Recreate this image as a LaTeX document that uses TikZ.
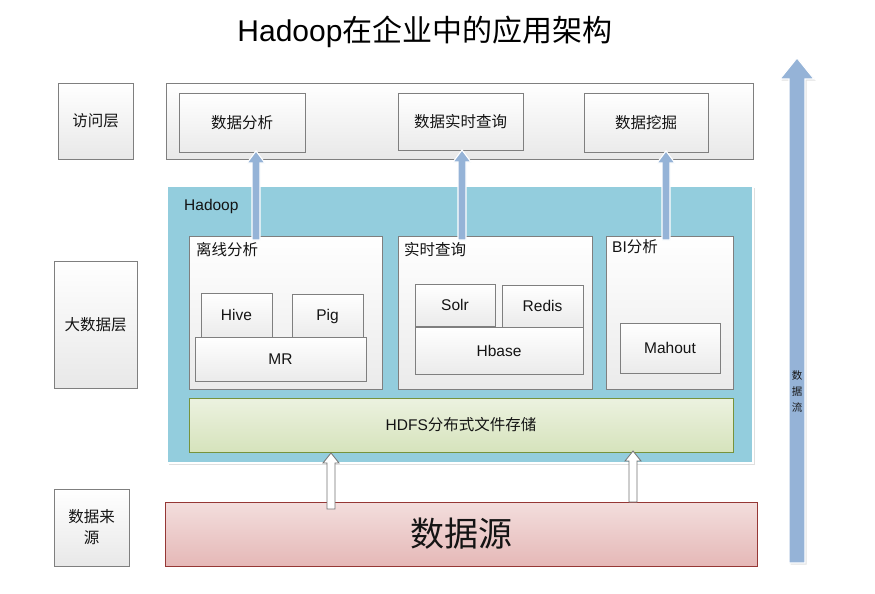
\documentclass[tikz,border=0pt]{standalone}
\usepackage{fontspec}
\setmainfont{Liberation Sans}
\newfontfamily\cjk{Noto Sans CJK SC}
\usetikzlibrary{shadows}
\definecolor{boxline}{RGB}{127,127,127}
\definecolor{hadoopfill}{RGB}{147,205,221}
\definecolor{hdfstop}{RGB}{236,242,224}
\definecolor{hdfsbot}{RGB}{214,227,188}
\definecolor{hdfsline}{RGB}{119,147,60}
\definecolor{srctop}{RGB}{243,222,221}
\definecolor{srcbot}{RGB}{229,184,183}
\definecolor{srcline}{RGB}{149,55,53}
\definecolor{flowblue}{RGB}{149,179,215}
\definecolor{txt}{RGB}{20,20,20}
\newcommand\zh[1]{{\cjk #1}}
\newcommand\blockup[7]{%
  \draw[#7] (#1-#4,#3) -- (#1-#4,#2+#6) -- (#1-#5,#2+#6) -- (#1,#2) -- (#1+#5,#2+#6) -- (#1+#4,#2+#6) -- (#1+#4,#3) -- cycle;}
\tikzset{
  lbl/.style={font=\fontsize{15.5}{18}\selectfont, text=txt},
  graybox/.style={draw=boxline, line width=0.8pt, top color=white, bottom color=black!9,
    drop shadow={shadow xshift=1.2pt, shadow yshift=-1.2pt, opacity=0.2},
    inner sep=0pt, lbl},
  innerbox/.style={draw=boxline, line width=0.8pt, top color=white, bottom color=black!8,
    inner sep=0pt, lbl},
  hadoopbox/.style={draw=white, line width=1.5pt, fill=hadoopfill,
    drop shadow={shadow xshift=1.5pt, shadow yshift=-1.5pt, opacity=0.25}, inner sep=0pt},
  hdfsbox/.style={draw=hdfsline, line width=0.8pt, top color=hdfstop, bottom color=hdfsbot, inner sep=0pt, lbl},
  srcbox/.style={draw=srcline, line width=0.8pt, top color=srctop, bottom color=srcbot, inner sep=0pt, text=txt},
  bluearrow/.style={fill=flowblue, draw=white, line width=1.1pt, line join=miter},
  whitearrow/.style={fill=white, draw=black!55, line width=0.8pt},
  corner/.style={anchor=west, inner sep=0pt, lbl},
}
\begin{document}
\begin{tikzpicture}[x=1pt, y=-1pt]
\useasboundingbox (0,0) rectangle (875,594);
% title
\node[font=\fontsize{30}{33}\selectfont, text=black] (title) at (425,32) {Hadoop\zh{在企业中的应用架构}};
% left labels
\node[graybox, minimum width=75pt, minimum height=76pt] (lab1) at (95.5,121) {\zh{访问层}};
\node[graybox, minimum width=83pt, minimum height=127pt] (lab2) at (95.5,324.5) {\zh{大数据层}};
\node[graybox, minimum width=75pt, minimum height=77pt, align=center] (lab3) at (91.5,527.5) {\zh{数据来}\\[3pt]\zh{源}};
% access layer
\node[graybox, minimum width=587pt, minimum height=76pt] (access) at (459.5,121) {};
\node[innerbox, minimum width=126pt, minimum height=59pt] (a1) at (242,122.5) {\zh{数据分析}};
\node[innerbox, minimum width=125pt, minimum height=57pt] (a2) at (460.5,121.5) {\zh{数据实时查询}};
\node[innerbox, minimum width=124pt, minimum height=59pt] (a3) at (646,122.5) {\zh{数据挖掘}};
% hadoop layer
\node[hadoopbox, minimum width=586pt, minimum height=277pt] (hadoop) at (460,324.5) {};
\node[corner] (hadooplbl) at (184,206) {Hadoop};
\node[innerbox, minimum width=193pt, minimum height=153pt] (off) at (285.5,312.5) {};
\node[corner] (offlbl) at (196,250) {\zh{离线分析}};
\node[innerbox, minimum width=71pt, minimum height=45pt] (hive) at (236.5,315.5) {\raisebox{2pt}{Hive}};
\node[innerbox, minimum width=71pt, minimum height=45pt] (pig) at (327.5,316.5) {Pig};
\node[innerbox, minimum width=171pt, minimum height=44pt] (mr) at (280.5,359) {MR};
\node[innerbox, minimum width=194pt, minimum height=153pt] (rt) at (495,312.5) {};
\node[corner] (rtlbl) at (404,250) {\zh{实时查询}};
\node[innerbox, minimum width=80pt, minimum height=42pt] (solr) at (455,305) {Solr};
\node[innerbox, minimum width=81pt, minimum height=42pt] (redis) at (542.5,306) {Redis};
\node[innerbox, minimum width=168pt, minimum height=47pt] (hbase) at (499,350.5) {Hbase};
\node[innerbox, minimum width=127pt, minimum height=153pt] (bi) at (669.5,312.5) {};
\node[corner] (bilbl) at (612,247) {BI\zh{分析}};
\node[innerbox, minimum width=100pt, minimum height=50pt] (mahout) at (670,348) {Mahout};
\node[hdfsbox, minimum width=544pt, minimum height=54pt] (hdfs) at (461,425) {HDFS\zh{分布式文件存储}};
% data source
\node[srcbox, minimum width=592pt, minimum height=64pt, font=\fontsize{34}{36}\selectfont] (src) at (461,534) {\zh{数据源}};
% blue arrows from hadoop components to access layer
\blockup{256}{151}{240}{4}{9}{12}{bluearrow}
\blockup{462}{150}{240}{4}{9}{12}{bluearrow}
\blockup{666}{151}{240}{4}{9}{12}{bluearrow}
% white arrows from data source to HDFS
\blockup{331}{453}{509}{4}{8}{10}{whitearrow}
\blockup{633}{451}{502}{4}{8}{10}{whitearrow}
% big data flow arrow
\begin{scope}[transparency group, opacity=0.12]
\blockup{798.5}{59.5}{564.5}{8}{17}{21}{fill=black, draw=none}
\end{scope}
\blockup{797}{58}{563}{8}{17}{21}{bluearrow}
\node[font=\fontsize{10.5}{16}\selectfont, align=center, text=txt, inner sep=0pt] (flow) at (797,391) {\zh{数}\\\zh{据}\\\zh{流}};
\end{tikzpicture}
\end{document}
